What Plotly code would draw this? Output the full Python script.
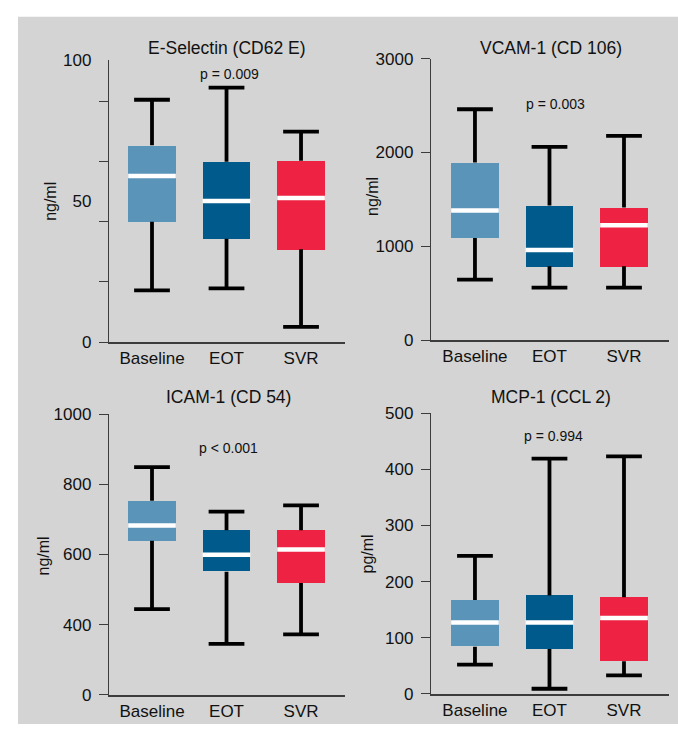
import plotly.graph_objects as go

# ---- data -------------------------------------------------------------
groups = ["Baseline", "EOT", "SVR"]
group_colors = ["#5b94b9", "#005a8c", "#ee2242"]

# E-Selectin (CD62 E), ng/ml
esel_lower = [18.3, 19.0, 5.4]
esel_q1 = [42.6, 36.6, 32.9]
esel_median = [58.8, 50.0, 51.0]
esel_q3 = [69.7, 63.9, 64.2]
esel_upper = [85.8, 90.1, 74.5]

# VCAM-1 (CD 106), ng/ml
vcam_lower = [646, 560, 560]
vcam_q1 = [1089, 788, 788]
vcam_median = [1383, 961, 1224]
vcam_q3 = [1894, 1435, 1414]
vcam_upper = [2461, 2060, 2178]

# ICAM-1 (CD 54), ng/ml
icam_lower = [444, 345, 372]
icam_q1 = [639, 551, 519]
icam_median = [683, 599, 614]
icam_q3 = [753, 669, 669]
icam_upper = [849, 722, 740]

# MCP-1 (CCL 2), pg/ml
mcp_lower = [52, 9, 33]
mcp_q1 = [84, 80, 58]
mcp_median = [127, 127, 135]
mcp_q3 = [167, 175, 172]
mcp_upper = [246, 419, 423]

titles = ["E-Selectin (CD62 E)", "VCAM-1 (CD 106)", "ICAM-1 (CD 54)", "MCP-1 (CCL 2)"]
units = ["ng/ml", "ng/ml", "ng/ml", "pg/ml"]
p_values = ["p = 0.009", "p = 0.003", "p < 0.001", "p = 0.994"]

# y-axis labels (ICAM-1 axis is broken below 400)
esel_ticks = [0, 50, 100]
esel_minor_ticks = [0, 21.3, 42.6, 63.9, 85.2]
vcam_ticks = [0, 1000, 2000, 3000]
icam_ticks = [200, 400, 600, 800, 1000]
icam_ticktext = ["0", "400", "600", "800", "1000"]
mcp_ticks = [0, 100, 200, 300, 400, 500]

# ---- layout geometry (pixels) -----------------------------------------
W, H = 678, 734
FONT = "Liberation Sans, Arial, Helvetica, sans-serif"
INK = "#111111"
AXIS = "#3c3c3c"

# (left, right, top, bottom) of each plot area
boxes = [(109, 345, 52, 342), (431, 669, 51, 340),
         (109, 345, 416, 704), (431, 669, 415, 703)]
xranges = [[-0.577, 2.59], [-0.59, 2.604], [-0.577, 2.59], [-0.59, 2.604]]
title_pos = [(227, 40), (551, 40), (228, 398), (551, 398)]
p_pos = [(229, 67), (555, 98), (228, 451), (553, 438)]
ylab_pos = [(51, 198), (372, 193), (43, 562), (368, 560)]

panels = [
    dict(lo=esel_lower, q1=esel_q1, med=esel_median, q3=esel_q3, hi=esel_upper,
         yrange=[0, 100], tickvals=esel_ticks, ticktext=[str(v) for v in esel_ticks],
         minor=esel_minor_ticks),
    dict(lo=vcam_lower, q1=vcam_q1, med=vcam_median, q3=vcam_q3, hi=vcam_upper,
         yrange=[0, 3000], tickvals=vcam_ticks, ticktext=[str(v) for v in vcam_ticks],
         minor=None),
    dict(lo=icam_lower, q1=icam_q1, med=icam_median, q3=icam_q3, hi=icam_upper,
         yrange=[200, 1000], tickvals=icam_ticks, ticktext=icam_ticktext,
         minor=None),
    dict(lo=mcp_lower, q1=mcp_q1, med=mcp_median, q3=mcp_q3, hi=mcp_upper,
         yrange=[0, 500], tickvals=mcp_ticks, ticktext=[str(v) for v in mcp_ticks],
         minor=None),
]

BOX_W = 0.64
CAP_W = 0.48
xpos = list(range(len(groups)))

fig = go.Figure()

for i, pnl in enumerate(panels):
    n = i + 1
    xa = "x" if n == 1 else f"x{n}"
    ya = "y" if n == 1 else f"y{n}"

    # whiskers: stem segments outside the box plus end caps
    wx, wy = [], []
    for k, x in enumerate(xpos):
        wx += [x, x, None, x, x, None]
        wy += [pnl["lo"][k], pnl["q1"][k], None, pnl["q3"][k], pnl["hi"][k], None]
        for v in (pnl["lo"][k], pnl["hi"][k]):
            wx += [x - CAP_W / 2, x + CAP_W / 2, None]
            wy += [v, v, None]
    fig.add_trace(go.Scatter(x=wx, y=wy, mode="lines", xaxis=xa, yaxis=ya,
                             line=dict(color="#000000", width=3.8),
                             hoverinfo="skip", showlegend=False))

    # interquartile boxes
    fig.add_trace(go.Bar(x=xpos, y=[pnl["q3"][k] - pnl["q1"][k] for k in range(3)],
                         base=pnl["q1"], width=BOX_W, xaxis=xa, yaxis=ya,
                         marker=dict(color=group_colors, line=dict(width=0)),
                         showlegend=False))

    # medians
    mx, my = [], []
    for k, x in enumerate(xpos):
        mx += [x - BOX_W / 2, x + BOX_W / 2, None]
        my += [pnl["med"][k], pnl["med"][k], None]
    fig.add_trace(go.Scatter(x=mx, y=my, mode="lines", xaxis=xa, yaxis=ya,
                             line=dict(color="#ffffff", width=4.5),
                             hoverinfo="skip", showlegend=False))

    l, r, t, b = boxes[i]
    xdom = [l / W, r / W]
    ydom = [1 - b / H, 1 - t / H]

    xaxis = dict(domain=xdom, range=xranges[i], anchor=ya,
                 tickvals=xpos, ticktext=groups, ticks="",
                 showgrid=False, zeroline=False,
                 showline=True, linecolor=AXIS, linewidth=1.8,
                 tickfont=dict(family=FONT, size=17, color=INK),
                 fixedrange=True)
    yaxis = dict(domain=ydom, range=pnl["yrange"], anchor=xa,
                 tickvals=pnl["tickvals"], ticktext=pnl["ticktext"],
                 ticks="outside", ticklen=9, tickwidth=1.3, tickcolor=AXIS,
                 showgrid=False, zeroline=False,
                 showline=True, linecolor=AXIS, linewidth=1.3,
                 ticklabelstandoff=4,
                 tickfont=dict(family=FONT, size=17, color=INK),
                 fixedrange=True)
    if pnl["minor"] is not None:
        yaxis["tickcolor"] = "rgba(0,0,0,0)"
        yaxis["minor"] = dict(tickmode="array", tickvals=pnl["minor"],
                              ticks="outside", ticklen=9, tickwidth=1.3,
                              tickcolor=AXIS, showgrid=False)
    fig.layout[f"xaxis{'' if n == 1 else n}"] = xaxis
    fig.layout[f"yaxis{'' if n == 1 else n}"] = yaxis

    tx, ty = title_pos[i]
    fig.add_annotation(x=tx / W, y=1 - ty / H, xref="paper", yref="paper",
                       text=titles[i], showarrow=False,
                       font=dict(family=FONT, size=17.5, color=INK),
                       xanchor="center", yanchor="middle")
    px_, py_ = p_pos[i]
    fig.add_annotation(x=px_ / W, y=1 - py_ / H, xref="paper", yref="paper",
                       text=p_values[i], showarrow=False,
                       font=dict(family=FONT, size=14, color=INK),
                       xanchor="center", yanchor="middle")
    lx, ly = ylab_pos[i]
    fig.add_annotation(x=lx / W, y=1 - ly / H, xref="paper", yref="paper",
                       text=units[i], showarrow=False, textangle=-90,
                       font=dict(family=FONT, size=16, color=INK),
                       xanchor="center", yanchor="middle")

# grey backdrop behind all four panels
fig.add_shape(type="rect", xref="paper", yref="paper",
              x0=18 / W, x1=1, y0=0, y1=1 - 8 / H,
              fillcolor="#d3d4d3", line=dict(width=0), layer="below")

fig.update_layout(width=W, height=H, margin=dict(l=0, r=0, t=0, b=0),
                  paper_bgcolor="#ffffff", plot_bgcolor="#fdfdfb",
                  showlegend=False, bargap=0)

fig.write_html("out.html", config={"displayModeBar": False})
